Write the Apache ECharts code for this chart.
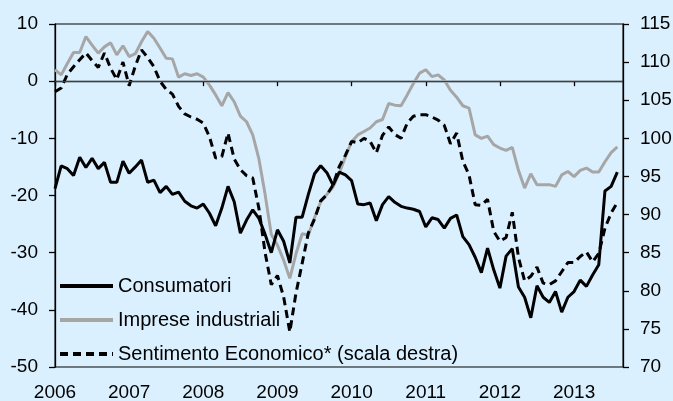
<!DOCTYPE html>
<html>
<head>
<meta charset="utf-8">
<script src="https://cdn.jsdelivr.net/npm/echarts@6/dist/echarts.min.js"></script>
<style>
html,body{margin:0;padding:0;background:#DBF0FE;}
#c{width:673px;height:401px;}
</style>
</head>
<body>
<div id="c"></div>
<script>
// Monthly observations, Jan 2006 .. Aug 2013
var startYear = 2006;
var years = [2006, 2007, 2008, 2009, 2010, 2011, 2012, 2013];
var leftTicks = [-50, -40, -30, -20, -10, 0, 10];
var rightTicks = [70, 75, 80, 85, 90, 95, 100, 105, 110, 115];

var consumatori = [
  -18.8, -14.8, -15.3, -16.5, -13.3, -15.1, -13.5, -15.3, -14.2, -17.7, -17.7, -14.0,
  -16.1, -15.0, -13.8, -17.7, -17.3, -19.5, -18.4, -19.8, -19.4, -21.0, -21.8, -22.2,
  -21.5, -23.1, -25.3, -22.2, -18.4, -21.1, -26.6, -24.3, -22.5, -24.0, -26.8, -30.0,
  -26.0, -28.0, -31.8, -23.8, -23.8, -19.8, -16.2, -14.8, -16.0, -18.2, -15.9, -16.4,
  -17.4, -21.5, -21.6, -21.3, -24.4, -21.6, -20.2, -21.2, -21.9, -22.2, -22.4, -22.8,
  -25.5, -23.9, -24.2, -25.7, -24.0, -23.4, -27.2, -28.6, -30.8, -33.5, -29.2, -33.0,
  -36.2, -30.6, -29.3, -36.0, -37.8, -41.4, -35.8, -37.8, -38.7, -36.8, -40.4, -37.8,
  -36.8, -34.8, -35.9, -33.9, -32.1, -19.2, -18.4, -15.9
];

var impreseIndustriali = [
  2.0, 1.1, 3.1, 5.0, 5.0, 7.8, 6.3, 4.9, 6.0, 6.7, 4.6, 6.2,
  4.3, 4.8, 6.9, 8.7, 7.5, 5.8, 4.0, 3.9, 0.7, 1.3, 1.0, 1.3,
  0.7, -0.7, -2.4, -4.3, -2.0, -3.6, -6.1, -7.1, -9.4, -13.6, -19.8, -26.8,
  -28.7, -31.3, -34.5, -30.2, -26.7, -26.9, -23.9, -21.1, -19.8, -18.5, -16.1, -13.2,
  -10.6, -9.4, -8.8, -8.2, -7.1, -6.7, -3.9, -4.2, -4.3, -2.4, -0.4, 1.4,
  2.0, 0.8, 1.1, 0.2, -1.6, -2.8, -4.3, -4.7, -9.4, -10.0, -9.6, -11.1,
  -11.7, -12.1, -11.6, -15.6, -18.7, -16.2, -18.1, -18.1, -18.1, -18.4, -16.4, -15.8,
  -16.7, -15.6, -15.2, -15.9, -15.9, -14.1, -12.5, -11.5
];

var sentimentoEconomico = [
  106.1, 106.6, 108.4, 109.4, 110.3, 111.2, 110.2, 109.3, 111.2, 109.2, 107.7, 110.0,
  106.9, 109.5, 111.6, 110.6, 109.4, 107.5, 106.4, 105.8, 104.2, 103.2, 102.8, 102.5,
  102.0, 100.2, 97.4, 97.6, 100.7, 97.3, 95.9, 95.1, 94.8, 90.8, 85.0, 80.8,
  82.0, 79.2, 74.6, 79.7, 83.6, 87.6, 89.4, 91.8, 92.6, 93.9, 96.3, 97.8,
  99.6, 99.4, 100.0, 99.6, 98.1, 100.4, 101.5, 100.5, 100.0, 102.0, 102.9, 103.1,
  103.1, 102.8, 102.4, 101.7, 99.3, 100.7, 97.0, 95.2, 91.3, 91.2, 92.0, 87.8,
  86.5, 87.0, 90.3, 84.4, 81.3, 81.9, 83.1, 81.0, 80.8, 81.3, 82.5, 83.7,
  83.7, 84.5, 85.1, 83.8, 84.9, 88.2, 90.2, 91.6
];

var names = ['Consumatori', 'Imprese industriali', 'Sentimento Economico* (scala destra)'];

function toPairs(arr) {
  return arr.map(function (v, i) { return [startYear + i / 12, v]; });
}

var font = 'Liberation Sans, Arial, sans-serif';
var chart = echarts.init(document.getElementById('c'), null, {renderer: 'canvas'});
chart.setOption({
  backgroundColor: '#DBF0FE',
  animation: false,
  grid: {
    left: 55, right: 50, top: 24, bottom: 34,
    outerBoundsMode: 'none',
    containLabel: false,
    show: true, borderColor: '#000', borderWidth: 1, backgroundColor: 'transparent'
  },
  legend: {
    orient: 'vertical',
    left: 58, top: 276,
    padding: 0,
    itemWidth: 53, itemHeight: 14,
    itemGap: 14,
    itemStyle: {opacity: 0, borderWidth: 0},
    lineStyle: {width: 4},
    textStyle: {fontFamily: font, fontSize: 20, color: '#000'},
    data: names
  },
  xAxis: {
    type: 'value',
    min: 2006, max: 2013.66,
    interval: 1,
    axisLine: {lineStyle: {color: '#000', width: 1.3}},
    axisTick: {show: true, length: 5, lineStyle: {color: '#000', width: 1.3}, customValues: years},
    axisLabel: {
      color: '#000', fontFamily: font, fontSize: 19, margin: 16,
      customValues: years,
      formatter: function (v) { return String(Math.round(v)); }
    },
    splitLine: {show: false}
  },
  yAxis: [
    {
      type: 'value', min: -50, max: 10, interval: 10, position: 'left',
      axisLine: {show: true, lineStyle: {color: '#000', width: 1.3}},
      axisTick: {show: true, length: 6, lineStyle: {color: '#000', width: 1.3}},
      axisLabel: {color: '#000', fontFamily: font, fontSize: 19, margin: 17,
        customValues: leftTicks},
      splitLine: {show: false}
    },
    {
      type: 'value', min: 70, max: 115, interval: 5, position: 'right',
      axisLine: {show: true, lineStyle: {color: '#000', width: 1.3}},
      axisTick: {show: true, length: 6, lineStyle: {color: '#000', width: 1.3}},
      axisLabel: {color: '#000', fontFamily: font, fontSize: 19, margin: 17,
        customValues: rightTicks},
      splitLine: {show: false}
    }
  ],
  series: [
    {
      name: names[0], type: 'line', yAxisIndex: 0, symbol: 'none',
      data: toPairs(consumatori),
      lineStyle: {color: '#000', width: 3},
      itemStyle: {color: '#000'},
      z: 3,
      markLine: {
        silent: true, symbol: 'none', label: {show: false},
        lineStyle: {color: '#404040', width: 1, type: 'solid'},
        data: [{yAxis: 0}]
      }
    },
    {
      name: names[1], type: 'line', yAxisIndex: 0, symbol: 'none',
      data: toPairs(impreseIndustriali),
      lineStyle: {color: '#A6A6A6', width: 3},
      itemStyle: {color: '#A6A6A6'},
      z: 2
    },
    {
      name: names[2], type: 'line', yAxisIndex: 1, symbol: 'none',
      data: toPairs(sentimentoEconomico),
      lineStyle: {color: '#000', width: 3, type: [8, 5]},
      itemStyle: {color: '#000'},
      z: 4
    }
  ]
});
</script>
</body>
</html>
